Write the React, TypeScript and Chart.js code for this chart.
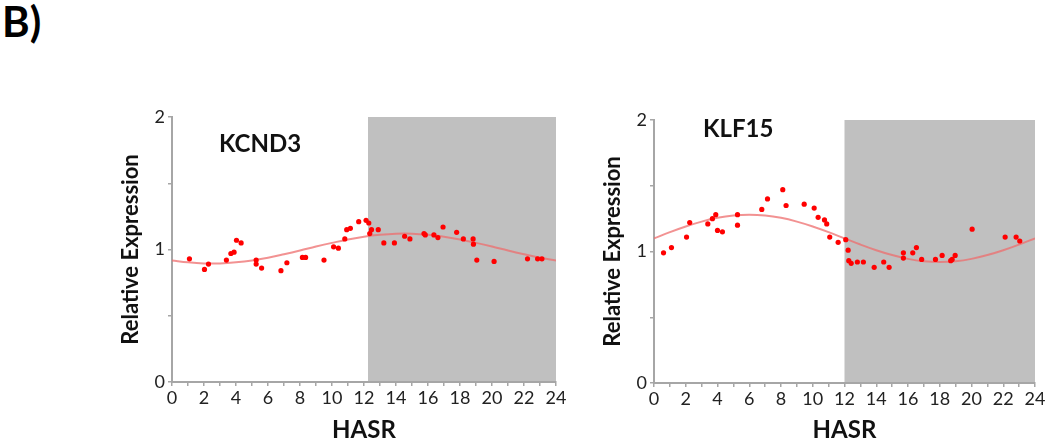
import React, { useEffect, useRef } from "react";
import { Chart, registerables } from "chart.js";

Chart.register(...registerables);

// ---------- data ----------
const hourTicks = [0, 2, 4, 6, 8, 10, 12, 14, 16, 18, 20, 22, 24];
const fitHours = [0, 1, 2, 3, 4, 5, 6, 7, 8, 9, 10, 11, 12, 13, 14, 15, 16, 17, 18, 19, 20, 21, 22, 23, 24];

const kcnd3Hours = [1.09, 2.03, 2.28, 3.4, 3.68, 3.88, 4.03, 4.32, 5.26, 5.26, 5.6, 6.81, 7.18, 8.15, 8.35, 9.5, 10.1, 10.4, 10.8, 10.92, 11.15, 11.67, 12.13, 12.3, 12.36, 12.47, 12.89, 13.24, 13.9, 14.54, 14.87, 15.75, 15.83, 16.37, 16.62, 16.94, 17.79, 18.21, 18.82, 18.84, 19.05, 20.13, 22.22, 22.85, 23.12];
const kcnd3Values = [0.93, 0.85, 0.89, 0.92, 0.97, 0.98, 1.07, 1.05, 0.92, 0.89, 0.86, 0.84, 0.9, 0.94, 0.94, 0.92, 1.02, 1.01, 1.08, 1.15, 1.16, 1.21, 1.22, 1.2, 1.12, 1.15, 1.15, 1.05, 1.05, 1.1, 1.08, 1.12, 1.11, 1.11, 1.09, 1.17, 1.13, 1.08, 1.08, 1.04, 0.92, 0.91, 0.93, 0.93, 0.93];
const kcnd3Fit = [0.917, 0.903, 0.895, 0.895, 0.903, 0.917, 0.938, 0.964, 0.992, 1.022, 1.05, 1.076, 1.097, 1.111, 1.119, 1.119, 1.111, 1.097, 1.076, 1.05, 1.022, 0.992, 0.964, 0.938, 0.917];
const kcnd3ShadeStart = 12.25;

const klf15Hours = [0.6, 1.1, 2.05, 2.25, 3.39, 3.68, 3.89, 4.0, 4.31, 5.26, 5.26, 6.79, 7.15, 8.11, 8.32, 9.46, 10.09, 10.34, 10.74, 10.88, 11.07, 11.6, 12.08, 12.23, 12.27, 12.42, 12.81, 13.19, 13.87, 14.47, 14.81, 15.71, 15.71, 16.3, 16.53, 16.86, 17.73, 18.15, 18.69, 18.78, 18.97, 20.04, 22.12, 22.81, 23.04];
const klf15Values = [0.99, 1.03, 1.11, 1.22, 1.21, 1.25, 1.28, 1.16, 1.15, 1.28, 1.2, 1.32, 1.4, 1.47, 1.35, 1.36, 1.33, 1.26, 1.24, 1.21, 1.11, 1.07, 1.09, 1.01, 0.93, 0.91, 0.92, 0.92, 0.88, 0.92, 0.88, 0.99, 0.95, 0.99, 1.03, 0.94, 0.94, 0.97, 0.93, 0.94, 0.97, 1.17, 1.11, 1.11, 1.08];
const klf15Fit = [1.1, 1.147, 1.19, 1.227, 1.256, 1.274, 1.28, 1.274, 1.256, 1.227, 1.19, 1.147, 1.1, 1.053, 1.01, 0.973, 0.944, 0.926, 0.92, 0.926, 0.944, 0.973, 1.01, 1.053, 1.1];
const klf15ShadeStart = 12;

const yLabelTicks = [0, 1, 2];

const FONT = "Lato, 'Open Sans', 'DejaVu Sans', sans-serif";
const AXIS_GREY = "#a6a6a6";

type PanelProps = {
  hours: number[];
  values: number[];
  fit: number[];
  shadeStart: number;
  left: number;
  top: number;
  width: number;
  height: number;
  padTop: number;
  padRight: number;
  xAxisHeight: number;
};

function Panel(p: PanelProps) {
  const ref = useRef<HTMLCanvasElement | null>(null);
  useEffect(() => {
    if (!ref.current) return;
    const shadePlugin = {
      id: "shade",
      beforeDraw(chart: any) {
        const { ctx, scales } = chart;
        const x = scales.x;
        const y = scales.y;
        const x0 = x.getPixelForValue(p.shadeStart);
        const x1 = x.getPixelForValue(24);
        const y0 = y.getPixelForValue(2);
        const y1 = y.getPixelForValue(0);
        ctx.save();
        ctx.fillStyle = "#c0c0c0";
        ctx.fillRect(x0, y0, x1 - x0, y1 - y0);
        ctx.restore();
      },
    };
    const chart = new Chart(ref.current, {
      type: "scatter",
      data: {
        datasets: [
          {
            type: "line",
            data: fitHours.map((h, i) => ({ x: h, y: p.fit[i] })),
            borderColor: "rgba(238, 110, 110, 0.75)",
            borderWidth: 2,
            pointRadius: 0,
            tension: 0.4,
            fill: false,
            order: 2,
          } as any,
          {
            type: "scatter",
            data: p.hours.map((h, i) => ({ x: h, y: p.values[i] })),
            backgroundColor: "#ff0000",
            borderColor: "#ff0000",
            borderWidth: 0,
            pointRadius: 2.6,
            order: 1,
          },
        ],
      },
      options: {
        responsive: false,
        maintainAspectRatio: false,
        animation: false,
        events: [],
        layout: { padding: { left: 0, top: p.padTop, right: p.padRight, bottom: 0 } },
        plugins: { legend: { display: false }, tooltip: { enabled: false } },
        scales: {
          x: {
            type: "linear",
            min: 0,
            max: 24,
            border: { color: AXIS_GREY, width: 2 },
            grid: { drawOnChartArea: false, drawTicks: true, tickLength: 4, color: AXIS_GREY, lineWidth: 1.5 },
            ticks: {
              stepSize: 1,
              autoSkip: false,
              maxRotation: 0,
              minRotation: 0,
              padding: 1,
              color: "#222",
              font: { family: FONT, size: 18 },
              callback: (v: any) => (hourTicks.includes(Number(v)) ? String(v) : ""),
            },
            title: {
              display: true,
              text: "HASR",
              color: "#111",
              font: { family: FONT, size: 24, weight: "bold" },
              padding: { top: 0, bottom: 1 },
            },
            afterFit(scale: any) {
              scale.height = p.xAxisHeight;
            },
          },
          y: {
            type: "linear",
            min: 0,
            max: 2,
            border: { color: AXIS_GREY, width: 2 },
            grid: { drawOnChartArea: false, drawTicks: true, tickLength: 4, color: AXIS_GREY, lineWidth: 1.5 },
            ticks: {
              stepSize: 0.5,
              padding: 3,
              color: "#222",
              font: { family: FONT, size: 18 },
              callback: (v: any) => (yLabelTicks.includes(Number(v)) ? String(v) : ""),
            },
            title: {
              display: true,
              text: "Relative Expression",
              color: "#111",
              font: { family: FONT, size: 22, weight: "bold" },
              padding: { top: 18, bottom: 0 },
            },
            afterFit(scale: any) {
              scale.width = 72;
            },
          },
        },
      },
      plugins: [shadePlugin],
    });
    return () => chart.destroy();
  }, []);
  return (
    <canvas
      ref={ref}
      width={p.width}
      height={p.height}
      style={{ position: "absolute", left: p.left, top: p.top, width: p.width, height: p.height }}
    />
  );
}

const labelStyle: React.CSSProperties = {
  position: "absolute",
  fontFamily: FONT,
  fontWeight: "bold",
  color: "#111",
  lineHeight: 1,
  whiteSpace: "nowrap",
};

export default function App() {
  return (
    <div style={{ position: "fixed", left: 0, top: 0, width: 1050, height: 446, background: "#fff", overflow: "hidden" }}>
      <div style={{ ...labelStyle, left: 2, top: 0, fontSize: 42, color: "#000" }}>B)</div>
      <Panel
        hours={kcnd3Hours}
        values={kcnd3Values}
        fit={kcnd3Fit}
        shadeStart={kcnd3ShadeStart}
        left={100}
        top={90}
        width={470}
        height={356}
        padTop={27}
        padRight={14}
        xAxisHeight={64}
      />
      <Panel
        hours={klf15Hours}
        values={klf15Values}
        fit={klf15Fit}
        shadeStart={klf15ShadeStart}
        left={582}
        top={90}
        width={468}
        height={356}
        padTop={30}
        padRight={15}
        xAxisHeight={63}
      />
      <div style={{ ...labelStyle, left: 219, top: 131, fontSize: 24 }}>KCND3</div>
      <div style={{ ...labelStyle, left: 703, top: 116, fontSize: 24 }}>KLF15</div>
    </div>
  );
}
